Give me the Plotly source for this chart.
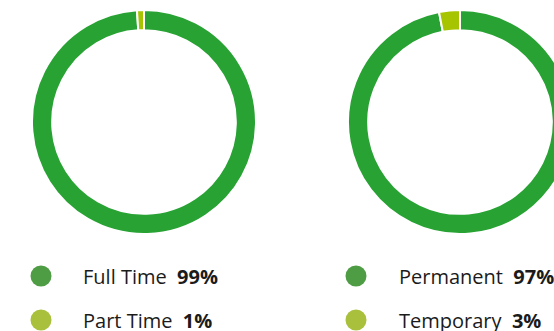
import plotly.graph_objects as go

# ---- data ----
chart1_labels = ["Full Time", "Part Time"]
chart1_values = [99, 1]
chart2_labels = ["Permanent", "Temporary"]
chart2_values = [97, 3]

ring_colors = ["#27a233", "#a6c400"]
legend_colors = ["#4e9d45", "#a9c03c"]

# ---- layout constants (pixels) ----
W, H = 600, 331
R = 112
c1 = (144, 122)
c2 = (460, 122)
legend_rows_y = [276, 320]
legend1_dot_x, legend1_text_x = 41, 81
legend2_dot_x, legend2_text_x = 356, 397

fig = go.Figure()

def dom(c):
    return dict(x=[(c[0] - R) / W, (c[0] + R) / W],
                y=[(H - c[1] - R) / H, (H - c[1] + R) / H])

for labels, values, c in [(chart1_labels, chart1_values, c1), (chart2_labels, chart2_values, c2)]:
    fig.add_trace(go.Pie(labels=labels, values=values, hole=0.82, sort=False,
                         direction="clockwise", rotation=0, domain=dom(c),
                         marker=dict(colors=ring_colors, line=dict(color="white", width=2)),
                         textinfo="none", showlegend=False, hoverinfo="label+percent"))

annotations = []
for labels, values, dx, tx in [(chart1_labels, chart1_values, legend1_dot_x, legend1_text_x),
                               (chart2_labels, chart2_values, legend2_dot_x, legend2_text_x)]:
    fig.add_trace(go.Scatter(x=[dx] * len(labels), y=[H - y for y in legend_rows_y],
                             mode="markers", showlegend=False, hoverinfo="skip",
                             marker=dict(size=21, color=legend_colors, line=dict(width=0))))
    for lab, val, y in zip(labels, values, legend_rows_y):
        annotations.append(dict(x=tx, y=H - y, xref="x", yref="y", xanchor="left",
                                yanchor="middle", showarrow=False,
                                text=f"{lab}\u00a0\u00a0<b>{val}%</b>",
                                font=dict(family="Open Sans", size=20, color="#1b1b1b")))

fig.update_layout(width=W, height=H, margin=dict(l=0, r=0, t=0, b=0),
                  paper_bgcolor="white", plot_bgcolor="rgba(0,0,0,0)",
                  xaxis=dict(range=[0, W], visible=False, fixedrange=True),
                  yaxis=dict(range=[0, H], visible=False, fixedrange=True),
                  annotations=annotations, showlegend=False)

fig.write_html("out.html", post_script="document.documentElement.style.overflow='hidden';document.body.style.overflow='hidden';")
